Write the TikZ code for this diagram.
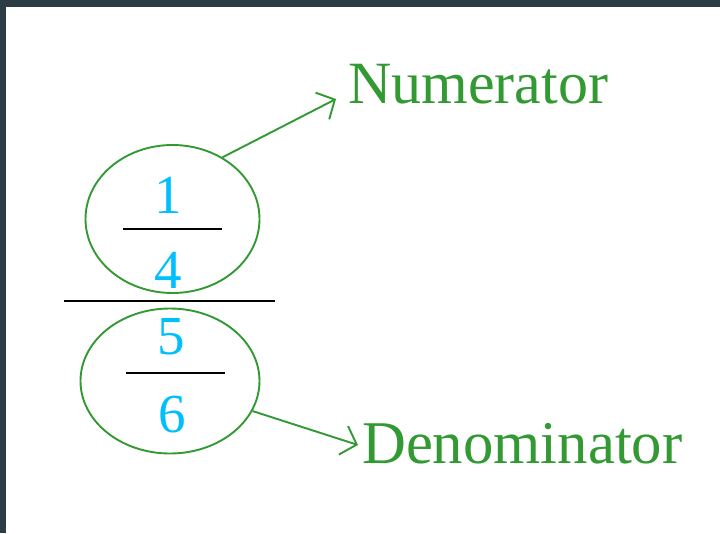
\documentclass[tikz,border=0pt]{standalone}
\usepackage{fontspec}
\setmainfont{Liberation Serif}
\usetikzlibrary{arrows.meta,positioning,shapes.geometric}
\definecolor{framedark}{RGB}{43,60,68}
\definecolor{labelgreen}{RGB}{51,153,51}
\definecolor{digitcyan}{RGB}{0,191,255}

\begin{document}
\begin{tikzpicture}[x=1pt,y=-1pt,
    oval/.style={draw=labelgreen,ellipse,line width=1.9pt,inner sep=0pt},
    digit/.style={text=digitcyan,font=\fontsize{55}{60}\selectfont,inner sep=0pt,anchor=base},
    word/.style={text=labelgreen,inner sep=0pt,anchor=base west},
    bar/.style={line width=2.8pt,black},
    pointer/.style={draw=labelgreen,line width=1.9pt,
                    -{Straight Barb[length=14pt,width=30pt,line width=1.9pt]}}]
  % canvas and frame
  \useasboundingbox (0,0) rectangle (720,533);
  \fill[white] (0,0) rectangle (720,533);
  \fill[framedark] (0,0) rectangle (720,7);
  \fill[framedark] (0,0) rectangle (6,533);
  % the two circled fractions
  \node[oval,minimum width=174pt,minimum height=148pt] (upper) at (172.5,219) {};
  \node[oval,minimum width=179pt,minimum height=145pt] (lower) at (170,381) {};
  \node[digit] (one)  at (168,213) {1};
  \node[digit] (four) at (168,288) {4};
  \node[digit] (five) at (171,354) {5};
  \node[digit] (six)  at (172,432) {6};
  \draw[bar] (123,229) -- (222,229);
  \draw[bar] (64,301) -- (275,301);
  \draw[bar] (126,373) -- (225,373);
  % labels
  \node[word,font=\fontsize{60}{64}\selectfont] (num) at (348,103) {Numerator};
  \node[word,font=\fontsize{60.7}{66}\selectfont] (den) at (362,463) {Denominator};
  \coordinate (numtip) at (336,99);
  \coordinate (dentip) at (358,445);
  \draw[pointer] (upper.51) -- (numtip);
  \draw[pointer] (lower.-20) -- (dentip);
\end{tikzpicture}
\end{document}
